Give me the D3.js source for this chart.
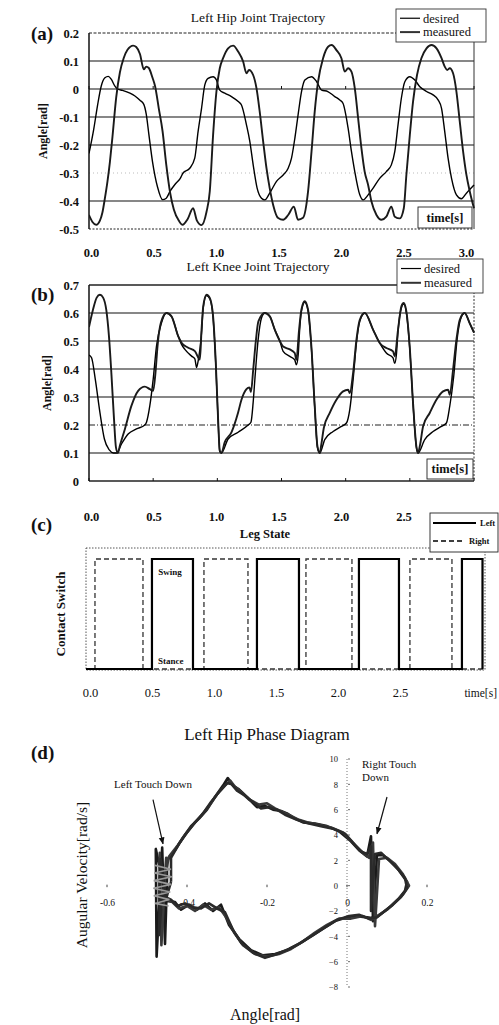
<!DOCTYPE html>
<html><head><meta charset="utf-8">
<script src="https://d3js.org/d3.v7.min.js"></script>
<style>
body{margin:0;background:#fff}
svg{display:block}
text{font-family:"Liberation Serif","Times New Roman",serif;fill:#111}
</style></head>
<body><svg width="499" height="1025"></svg>
<script>
// ---------------- DATA ----------------
const timeTicks = [0, 0.5, 1, 1.5, 2, 2.5, 3];
const legTimeTicks = [0, 0.5, 1, 1.5, 2, 2.5];
const hipTicks = [0.2, 0.1, 0, -0.1, -0.2, -0.3, -0.4, -0.5];
const kneeTicks = [0.7, 0.6, 0.5, 0.4, 0.3, 0.2, 0.1, 0];
const phaseXTicks = [-0.6, -0.4, -0.2, 0, 0.2];
const phaseYTicks = [10, 8, 6, 4, 2, 0, -2, -4, -6, -8];
const seriesNames = ["desired", "measured"];
const legNames = ["Left", "Right"];

// (a) Left hip joint [time s, angle rad]
const hipMeasured = [[0,-0.45],[0.027,-0.475],[0.056,-0.485],[0.085,-0.47],[0.105,-0.44],[0.124,-0.39],[0.144,-0.33],[0.163,-0.26],[0.183,-0.17],[0.212,-0.03],[0.241,0.06],[0.27,0.11],[0.30,0.14],[0.344,0.155],[0.368,0.15],[0.397,0.125],[0.427,0.07],[0.446,0.08],[0.466,0.075],[0.495,0.04],[0.515,0.01],[0.544,-0.07],[0.573,-0.15],[0.602,-0.27],[0.632,-0.37],[0.661,-0.43],[0.70,-0.47],[0.729,-0.485],[0.768,-0.465],[0.811,-0.426],[0.841,-0.47],[0.877,-0.486],[0.915,-0.44],[0.941,-0.366],[0.967,-0.164],[0.993,-0.009],[1.019,0.074],[1.045,0.11],[1.084,0.145],[1.123,0.155],[1.163,0.133],[1.201,0.098],[1.227,0.056],[1.247,0.068],[1.279,0.05],[1.305,0.003],[1.33,-0.08],[1.357,-0.187],[1.383,-0.283],[1.408,-0.354],[1.435,-0.414],[1.474,-0.461],[1.513,-0.467],[1.552,-0.45],[1.596,-0.42],[1.629,-0.467],[1.668,-0.46],[1.707,-0.366],[1.734,-0.223],[1.759,-0.08],[1.785,0.026],[1.824,0.11],[1.863,0.151],[1.891,0.157],[1.928,0.139],[1.967,0.11],[1.993,0.062],[2.019,0.074],[2.045,0.062],[2.071,0.003],[2.097,-0.104],[2.123,-0.212],[2.148,-0.295],[2.175,-0.343],[2.201,-0.402],[2.24,-0.45],[2.279,-0.467],[2.317,-0.456],[2.356,-0.42],[2.383,-0.456],[2.422,-0.462],[2.453,-0.426],[2.473,-0.307],[2.50,-0.164],[2.525,-0.045],[2.556,0.05],[2.59,0.11],[2.63,0.145],[2.669,0.157],[2.708,0.145],[2.747,0.11],[2.772,0.08],[2.791,0.068],[2.811,0.074],[2.837,0.056],[2.863,-0.009],[2.889,-0.116],[2.915,-0.223],[2.941,-0.307],[2.967,-0.366],[3.0,-0.426]];
const hipDesired = [[0,-0.23],[0.036,-0.146],[0.066,-0.06],[0.095,0.01],[0.124,0.04],[0.15,0.045],[0.173,0.035],[0.202,0.01],[0.222,0.0],[0.261,-0.005],[0.319,-0.015],[0.358,-0.025],[0.397,-0.04],[0.427,-0.055],[0.446,-0.09],[0.466,-0.16],[0.495,-0.26],[0.534,-0.35],[0.573,-0.395],[0.602,-0.39],[0.632,-0.365],[0.671,-0.34],[0.71,-0.32],[0.733,-0.30],[0.785,-0.283],[0.824,-0.247],[0.85,-0.152],[0.877,-0.069],[0.902,0.014],[0.928,0.038],[0.967,0.044],[0.993,0.032],[1.019,-0.004],[1.058,-0.015],[1.11,-0.027],[1.163,-0.045],[1.188,-0.057],[1.227,-0.128],[1.253,-0.187],[1.279,-0.27],[1.31,-0.354],[1.344,-0.39],[1.37,-0.396],[1.408,-0.372],[1.461,-0.33],[1.513,-0.307],[1.552,-0.283],[1.578,-0.247],[1.604,-0.176],[1.629,-0.093],[1.656,-0.009],[1.682,0.032],[1.734,0.044],[1.774,0.026],[1.813,-0.004],[1.861,-0.009],[1.915,-0.027],[1.954,-0.039],[1.979,-0.051],[2.019,-0.14],[2.045,-0.223],[2.071,-0.295],[2.11,-0.378],[2.136,-0.396],[2.175,-0.378],[2.214,-0.354],[2.265,-0.319],[2.317,-0.295],[2.356,-0.271],[2.383,-0.223],[2.408,-0.128],[2.434,-0.033],[2.461,0.026],[2.50,0.044],[2.539,0.032],[2.578,0.008],[2.63,-0.009],[2.681,-0.021],[2.72,-0.039],[2.747,-0.069],[2.772,-0.152],[2.798,-0.247],[2.825,-0.319],[2.863,-0.378],[2.902,-0.392],[2.941,-0.372],[3.0,-0.343]];

// (b) Left knee joint [time s, angle rad]
const kneeMeasured = [[0,0.55],[0.03,0.61],[0.06,0.655],[0.085,0.665],[0.11,0.655],[0.135,0.61],[0.155,0.52],[0.175,0.38],[0.195,0.22],[0.21,0.12],[0.225,0.10],[0.241,0.127],[0.28,0.186],[0.331,0.269],[0.383,0.322],[0.435,0.337],[0.474,0.328],[0.50,0.322],[0.518,0.387],[0.534,0.482],[0.56,0.565],[0.604,0.60],[0.643,0.588],[0.695,0.517],[0.721,0.494],[0.773,0.476],[0.825,0.464],[0.864,0.434],[0.877,0.54],[0.89,0.624],[0.916,0.665],[0.942,0.653],[0.967,0.588],[0.988,0.422],[1.006,0.22],[1.019,0.109],[1.032,0.10],[1.058,0.139],[1.11,0.174],[1.162,0.245],[1.188,0.29],[1.227,0.328],[1.25,0.334],[1.262,0.318],[1.28,0.40],[1.30,0.50],[1.32,0.57],[1.37,0.60],[1.409,0.588],[1.448,0.54],[1.487,0.50],[1.513,0.48],[1.565,0.47],[1.603,0.457],[1.616,0.433],[1.637,0.54],[1.655,0.612],[1.681,0.642],[1.707,0.612],[1.733,0.48],[1.759,0.267],[1.78,0.124],[1.798,0.10],[1.81,0.13],[1.83,0.19],[1.876,0.243],[1.928,0.29],[1.98,0.32],[2.019,0.326],[2.032,0.314],[2.058,0.386],[2.084,0.505],[2.11,0.576],[2.149,0.60],[2.214,0.54],[2.265,0.493],[2.317,0.475],[2.369,0.463],[2.382,0.445],[2.408,0.54],[2.434,0.624],[2.452,0.636],[2.473,0.606],[2.499,0.48],[2.525,0.279],[2.551,0.124],[2.564,0.10],[2.58,0.13],[2.603,0.195],[2.655,0.243],[2.707,0.29],[2.759,0.32],[2.798,0.326],[2.811,0.308],[2.837,0.398],[2.863,0.505],[2.889,0.576],[2.927,0.60],[2.966,0.564],[3.0,0.53]];
const kneeDesired = [[0,0.45],[0.02,0.44],[0.05,0.36],[0.085,0.245],[0.12,0.15],[0.16,0.11],[0.19,0.10],[0.215,0.10],[0.254,0.133],[0.305,0.168],[0.37,0.186],[0.435,0.20],[0.448,0.21],[0.474,0.269],[0.50,0.363],[0.526,0.482],[0.565,0.565],[0.604,0.60],[0.643,0.588],[0.695,0.517],[0.721,0.488],[0.747,0.47],[0.799,0.446],[0.825,0.436],[0.838,0.405],[0.851,0.43],[0.877,0.53],[0.89,0.618],[0.916,0.662],[0.942,0.65],[0.967,0.582],[0.988,0.416],[1.006,0.215],[1.019,0.105],[1.032,0.10],[1.084,0.15],[1.162,0.174],[1.24,0.20],[1.262,0.21],[1.279,0.28],[1.292,0.36],[1.318,0.505],[1.344,0.582],[1.37,0.60],[1.409,0.588],[1.448,0.54],[1.487,0.50],[1.513,0.463],[1.565,0.445],[1.603,0.433],[1.616,0.415],[1.63,0.45],[1.64,0.53],[1.655,0.605],[1.681,0.638],[1.707,0.608],[1.733,0.475],[1.759,0.262],[1.78,0.12],[1.798,0.10],[1.837,0.148],[1.902,0.177],[1.967,0.195],[2.006,0.207],[2.032,0.255],[2.058,0.362],[2.084,0.493],[2.11,0.57],[2.149,0.60],[2.214,0.54],[2.265,0.493],[2.317,0.457],[2.369,0.44],[2.382,0.42],[2.395,0.45],[2.408,0.535],[2.434,0.618],[2.452,0.632],[2.473,0.60],[2.499,0.475],[2.525,0.275],[2.551,0.12],[2.564,0.10],[2.616,0.148],[2.681,0.177],[2.746,0.195],[2.785,0.207],[2.811,0.267],[2.842,0.374],[2.868,0.505],[2.894,0.576],[2.927,0.60],[2.966,0.564],[3.0,0.53]];

// (c) Leg state [time s, 0 = stance, 1 = swing]
const legLeft = [[0,0],[0.529,1],[0.858,0],[1.371,1],[1.708,0],[2.189,1],[2.51,0],[3.015,1],[3.18,1],[3.18,0]];
const legRight = [[0,0],[0.072,1],[0.457,0],[0.946,1],[1.299,0],[1.764,1],[2.133,0],[2.598,1],[2.935,0],[3.2,0]];

// (d) Left hip phase diagram [angle rad, angular velocity rad/s]
const phaseLoop1 = [[-0.45,0.5],[-0.45,2.0],[-0.43,2.8],[-0.41,3.8],[-0.39,4.7],[-0.37,5.3],[-0.35,6.0],[-0.33,7.0],[-0.31,7.9],[-0.298,8.5],[-0.285,7.9],[-0.27,7.6],[-0.25,7.0],[-0.225,6.2],[-0.205,6.3],[-0.185,6.0],[-0.165,5.9],[-0.15,5.7],[-0.13,5.3],[-0.11,5.0],[-0.08,4.9],[-0.05,4.7],[-0.02,4.3],[0.01,3.5],[0.03,2.8],[0.05,2.3],[0.06,3.9],[0.065,-2.8],[0.075,2.4],[0.09,2.4],[0.11,1.9],[0.13,1.2],[0.15,0.3],[0.145,-0.4],[0.13,-1.0],[0.11,-1.6],[0.09,-2.1],[0.07,-2.6],[0.05,-2.5],[0.02,-2.4],[0.0,-2.5],[-0.03,-2.8],[-0.06,-3.4],[-0.09,-4.0],[-0.12,-4.6],[-0.15,-5.1],[-0.18,-5.4],[-0.21,-5.5],[-0.24,-5.1],[-0.27,-4.2],[-0.295,-3.1],[-0.315,-1.5],[-0.335,-2.0],[-0.355,-1.4],[-0.375,-1.9],[-0.395,-1.5],[-0.415,-1.9],[-0.43,-1.3],[-0.45,-1.2],[-0.478,2.9],[-0.476,-5.6],[-0.462,3.0],[-0.455,-4.6],[-0.45,0.5]];
const phaseLoop2 = [[-0.455,0.8],[-0.445,2.3],[-0.425,3.1],[-0.405,4.0],[-0.385,4.8],[-0.365,5.5],[-0.345,6.3],[-0.325,7.2],[-0.305,7.9],[-0.292,8.3],[-0.28,7.8],[-0.265,7.4],[-0.245,6.8],[-0.22,6.4],[-0.20,6.5],[-0.18,6.1],[-0.16,5.8],[-0.14,5.5],[-0.12,5.2],[-0.10,5.0],[-0.07,4.8],[-0.04,4.6],[-0.01,4.2],[0.02,3.2],[0.04,2.6],[0.055,2.2],[0.065,3.4],[0.07,-3.2],[0.08,2.1],[0.10,2.2],[0.12,1.7],[0.14,0.9],[0.155,0.0],[0.14,-0.7],[0.12,-1.3],[0.10,-1.9],[0.08,-2.3],[0.06,-2.7],[0.04,-2.4],[0.01,-2.6],[-0.02,-2.6],[-0.05,-3.1],[-0.08,-3.7],[-0.11,-4.4],[-0.14,-5.0],[-0.17,-5.4],[-0.20,-5.6],[-0.23,-5.4],[-0.26,-4.7],[-0.28,-3.8],[-0.30,-2.6],[-0.32,-1.7],[-0.34,-1.9],[-0.36,-1.5],[-0.38,-2.0],[-0.40,-1.6],[-0.42,-1.8],[-0.44,-1.2],[-0.47,-1.0],[-0.468,2.6],[-0.464,-4.7],[-0.452,2.2],[-0.455,0.8]];
const phaseLoop3 = [[-0.44,0.3],[-0.44,2.2],[-0.42,3.3],[-0.40,4.2],[-0.38,5.0],[-0.36,5.7],[-0.34,6.6],[-0.32,7.4],[-0.30,8.1],[-0.288,8.0],[-0.275,7.5],[-0.255,7.1],[-0.235,6.6],[-0.215,6.1],[-0.195,6.2],[-0.175,6.0],[-0.155,5.6],[-0.125,5.2],[-0.095,4.9],[-0.065,4.7],[-0.035,4.5],[-0.005,4.1],[0.015,3.4],[0.035,2.7],[0.05,2.5],[0.06,3.1],[0.06,-2.0],[0.07,2.5],[0.085,2.6],[0.105,2.0],[0.125,1.4],[0.145,0.6],[0.15,-0.2],[0.135,-0.9],[0.115,-1.5],[0.095,-2.0],[0.075,-2.5],[0.055,-2.6],[0.03,-2.3],[0.005,-2.4],[-0.025,-2.7],[-0.055,-3.3],[-0.085,-3.9],[-0.115,-4.5],[-0.145,-5.0],[-0.175,-5.4],[-0.205,-5.7],[-0.235,-5.3],[-0.265,-4.5],[-0.285,-3.5],[-0.305,-2.1],[-0.325,-1.8],[-0.345,-1.4],[-0.365,-1.8],[-0.385,-1.7],[-0.405,-1.4],[-0.425,-1.6],[-0.44,-1.1],[-0.462,-0.8],[-0.47,-3.9],[-0.466,2.1],[-0.452,-1.0],[-0.44,0.3]];
const touchCluster = [[-0.48,1.6],[-0.44,1.3],[-0.482,1.0],[-0.438,0.7],[-0.483,0.4],[-0.44,0.1],[-0.484,-0.2],[-0.442,-0.5],[-0.483,-0.8],[-0.444,-1.1],[-0.48,-1.4],[-0.446,-1.6]];
const annotations = [
  {label:["Left Touch Down"], text:[-0.485,7.7], from:[-0.485,6.8], to:[-0.46,3.3], anchor:"middle"},
  {label:["Right Touch","Down"], text:[0.0375,9.3], from:[0.10,7.0], to:[0.075,4.1], anchor:"start"}
];

// ---------------- DRAW ----------------
const SERIF = '"Liberation Serif","Times New Roman",serif';
const svg = d3.select("svg");
const defs = svg.append("defs");
const fmt = d => d === 0 ? "0" : d.toFixed(1);

function cleanAxis(g, size, weight) {
  g.select(".domain").remove();
  g.selectAll(".tick line").remove();
  g.selectAll("text").style("font-family", SERIF).style("font-size", size + "px")
    .style("font-weight", weight).attr("fill", "#111");
}
function hline(g, x0, x1, y, stroke, w, dash) {
  g.append("line").attr("x1", x0).attr("x2", x1).attr("y1", y).attr("y2", y)
    .attr("stroke", stroke).attr("stroke-width", w).attr("stroke-dasharray", dash || null);
}
function vline(g, x, y0, y1, stroke, w, dash) {
  g.append("line").attr("x1", x).attr("x2", x).attr("y1", y0).attr("y2", y1)
    .attr("stroke", stroke).attr("stroke-width", w).attr("stroke-dasharray", dash || null);
}
function clip(id, x, y, w, h) {
  defs.append("clipPath").attr("id", id).append("rect").attr("x", x).attr("y", y).attr("width", w).attr("height", h);
}

const xT = d3.scaleLinear().domain([0, 3]).range([89, 474]);      // data time scale
const xTL = d3.scaleLinear().domain([0, 3]).range([91, 466]);     // tick label row

function trajPanel(o) {
  const g = svg.append("g");
  const y = o.y;
  const [x0, x1] = xT.range();
  const [yb, yt] = y.range();
  o.ticks.filter(v => v !== o.ticks[0] && v !== o.ticks[o.ticks.length - 1]).forEach(v => {
    if (o.faint.includes(v)) hline(g, x0, x1, y(v), "#aaa", 0.8, "1,3");
    else if (o.dashed.includes(v)) hline(g, x0, x1, y(v), "#222", 1.1, "6,2,1,2");
    else hline(g, x0, x1, y(v), "#111", 1.2);
  });
  hline(g, x0, x1, yt, "#222", o.topSolid ? 1.3 : 1, o.topSolid ? null : "3,1.5");
  hline(g, x0, x1, yb, "#222", o.bottomSolid ? 1.4 : 1, o.bottomSolid ? null : "2,1.5");
  vline(g, x0, yt, yb, "#111", 1.5);
  vline(g, x1, yt, yb, "#333", 1, o.rightDotted ? "2,1.5" : null);
  timeTicks.forEach(t => vline(g, xT(t), y(o.tickAt), y(o.tickAt) - 3, "#111", 1));
  clip(o.id, x0, yt - 2, x1 - x0 + 1, yb - yt + 4);
  const line = d3.line().x(d => xT(d[0])).y(d => y(d[1])).curve(d3.curveMonotoneX);
  const cg = g.append("g").attr("clip-path", `url(#${o.id})`);
  cg.append("path").datum(o.desired).attr("d", line).attr("fill", "none")
    .attr("stroke", "#000").attr("stroke-width", 1.4).attr("stroke-linejoin", "round");
  cg.append("path").datum(o.measured).attr("d", line).attr("fill", "none")
    .attr("stroke", "#1a1a1a").attr("stroke-width", 1.9).attr("stroke-linejoin", "round");
  const ya = g.append("g").attr("transform", "translate(79,0)")
    .call(d3.axisLeft(y).tickValues(o.ticks).tickSize(0).tickPadding(0).tickFormat(fmt));
  cleanAxis(ya, 12.5, "bold");
  const xa = g.append("g").attr("transform", `translate(0,${o.xLabelY})`)
    .call(d3.axisBottom(xTL).tickValues(timeTicks).tickSize(0).tickFormat(d3.format(".1f")));
  cleanAxis(xa, 12.5, "bold");
  xa.selectAll("text").attr("y", 0).attr("dy", "0.35em");
  g.append("text").attr("x", 258).attr("y", o.titleY).attr("text-anchor", "middle")
    .style("font-size", "13.5px").text(o.title);
  g.append("text").attr("x", 31).attr("y", o.tagY).style("font-size", "19px")
    .style("font-weight", "bold").text(o.tag);
  g.append("text").attr("transform", `translate(${o.yTitleX},${(yt + yb) / 2}) rotate(-90)`)
    .attr("text-anchor", "middle").attr("dy", "0.35em").style("font-size", "12px")
    .style("font-weight", "bold").text("Angle[rad]");
  const tb = o.timeBox;
  g.append("rect").attr("x", tb[0]).attr("y", tb[1]).attr("width", tb[2]).attr("height", tb[3])
    .attr("fill", "#fff").attr("stroke", "#222").attr("stroke-width", 0.9);
  g.append("text").attr("x", tb[0] + tb[2] / 2).attr("y", tb[1] + tb[3] / 2).attr("dy", "0.35em")
    .attr("text-anchor", "middle").style("font-size", "12.5px").style("font-weight", "bold").text("time[s]");
  const lb = o.legend;
  g.append("rect").attr("x", lb[0]).attr("y", lb[1]).attr("width", lb[2]).attr("height", lb[3])
    .attr("fill", "#fff").attr("stroke", "#333").attr("stroke-width", 0.9);
  seriesNames.forEach((n, i) => {
    const ly = lb[1] + lb[3] * (i === 0 ? 0.28 : 0.7);
    hline(g, lb[0] + 4, lb[0] + 24, ly, i === 0 ? "#000" : "#333", i === 0 ? 1.2 : 2);
    g.append("text").attr("x", lb[0] + 27).attr("y", ly).attr("dy", "0.35em")
      .style("font-size", "12.5px").text(n);
  });
}

// (a)
trajPanel({
  id: "clipA", y: d3.scaleLinear().domain([-0.5, 0.2]).range([229, 33]), ticks: hipTicks,
  faint: [-0.3], dashed: [], topSolid: false, bottomSolid: false, rightDotted: false, tickAt: 0,
  desired: hipDesired, measured: hipMeasured, xLabelY: 253, title: "Left Hip Joint Trajectory",
  titleY: 22, tag: "(a)", tagY: 40, yTitleX: 43, timeBox: [418, 207, 54, 21], legend: [396, 9, 90, 33]
});
// (b)
trajPanel({
  id: "clipB", y: d3.scaleLinear().domain([0, 0.7]).range([481, 285]), ticks: kneeTicks,
  faint: [], dashed: [0.2], topSolid: true, bottomSolid: true, rightDotted: true, tickAt: 0,
  desired: kneeDesired, measured: kneeMeasured, xLabelY: 517, title: "Left Knee Joint Trajectory",
  titleY: 271, tag: "(b)", tagY: 301, yTitleX: 47, timeBox: [427, 459, 46, 20], legend: [397, 259, 86, 34]
});

// (c) Leg state
(function () {
  const g = svg.append("g");
  const x = d3.scaleLinear().domain([0, 3.2]).range([86, 485]);
  const xl = d3.scaleLinear().domain([0, 2.5]).range([90, 400]);
  const y = d3.scaleLinear().domain([0, 1]).range([669, 559]);
  g.append("rect").attr("x", 86).attr("y", 548).attr("width", 399).attr("height", 122)
    .attr("fill", "none").attr("stroke", "#444").attr("stroke-width", 0.9).attr("stroke-dasharray", "1.5,1.5");
  const step = d3.line().x(d => x(d[0])).y(d => y(d[1])).curve(d3.curveStepAfter);
  g.append("path").datum(legRight).attr("d", step).attr("fill", "none").attr("stroke", "#333")
    .attr("stroke-width", 1.3).attr("stroke-dasharray", "5,3");
  g.append("path").datum(legLeft).attr("d", step).attr("fill", "none").attr("stroke", "#000")
    .attr("stroke-width", 2.2);
  g.append("text").attr("x", x(0.674)).attr("y", y(0.88)).attr("dy", "0.35em").attr("text-anchor", "middle")
    .style("font-size", "9px").style("font-weight", "bold").text("Swing");
  g.append("text").attr("x", x(0.68)).attr("y", y(0.07)).attr("dy", "0.35em").attr("text-anchor", "middle")
    .style("font-size", "9px").style("font-weight", "bold").text("Stance");
  const xa = g.append("g").attr("transform", "translate(0,693)")
    .call(d3.axisBottom(xl).tickValues(legTimeTicks).tickSize(0).tickFormat(d3.format(".1f")));
  cleanAxis(xa, 12.5, "normal");
  xa.selectAll("text").attr("y", 0).attr("dy", "0.35em");
  g.append("text").attr("x", 497).attr("y", 693).attr("dy", "0.35em").attr("text-anchor", "end")
    .style("font-size", "11.5px").text("time[s]");
  g.append("text").attr("x", 265).attr("y", 538).attr("text-anchor", "middle")
    .style("font-size", "12.5px").style("font-weight", "bold").text("Leg State");
  g.append("text").attr("x", 31).attr("y", 531).style("font-size", "19px").style("font-weight", "bold").text("(c)");
  g.append("text").attr("transform", "translate(60,614) rotate(-90)").attr("text-anchor", "middle")
    .attr("dy", "0.35em").style("font-size", "13px").style("font-weight", "bold").text("Contact Switch");
  g.append("rect").attr("x", 430).attr("y", 513).attr("width", 68).attr("height", 39)
    .attr("fill", "#fff").attr("stroke", "#222").attr("stroke-width", 0.9);
  legNames.forEach((n, i) => {
    const ly = 523 + i * 18;
    hline(g, 433, i === 0 ? 476 : 465, ly, "#000", i === 0 ? 2.2 : 1.3, i === 0 ? null : "5,3");
    g.append("text").attr("x", i === 0 ? 480 : 469).attr("y", ly).attr("dy", "0.35em")
      .style("font-size", "8.5px").style("font-weight", "bold").text(n);
  });
})();

// (d) Phase diagram
(function () {
  const g = svg.append("g");
  const x = d3.scaleLinear().domain([-0.6, 0.2]).range([107, 427]);
  const y = d3.scaleLinear().domain([-8, 10]).range([987, 759]);
  vline(g, x(0), y(10), y(-8), "#666", 0.9, "1,2");
  phaseYTicks.forEach(v => hline(g, x(0) + 1, x(0) + 3, y(v), "#444", 0.8));
  const ya = g.append("g").attr("transform", `translate(${x(0) - 9},0)`)
    .call(d3.axisLeft(y).tickValues(phaseYTicks).tickSize(0).tickPadding(0).tickFormat(d3.format("d")));
  cleanAxis(ya, 8.5, "normal");
  phaseXTicks.forEach(v => vline(g, x(v), y(0) - 1, y(0) + 1.5, "#444", 1));
  const xa = g.append("g").attr("transform", `translate(0,${y(0) + 17})`)
    .call(d3.axisBottom(x).tickValues(phaseXTicks).tickSize(0).tickFormat(fmt));
  cleanAxis(xa, 9.5, "normal");
  xa.selectAll("text").attr("y", 0).attr("dy", "0.35em");
  const line = d3.line().x(d => x(d[0])).y(d => y(d[1]));
  [phaseLoop1, phaseLoop2, phaseLoop3].forEach((lp, i) => {
    g.append("path").datum(lp).attr("d", line).attr("fill", "none")
      .attr("stroke", ["#1a1a1a", "#3a3a3a", "#2a2a2a"][i]).attr("stroke-width", 2.6)
      .attr("stroke-linejoin", "round");
  });
  g.append("path").datum(touchCluster).attr("d", line).attr("fill", "none")
    .attr("stroke", "#999").attr("stroke-width", 1.6);
  defs.append("marker").attr("id", "arr").attr("viewBox", "0 0 10 10").attr("refX", 9).attr("refY", 5)
    .attr("markerWidth", 6).attr("markerHeight", 6).attr("orient", "auto")
    .append("path").attr("d", "M0,1 L10,5 L0,9 z").attr("fill", "#111");
  annotations.forEach(a => {
    const t = g.append("text").attr("x", x(a.text[0])).attr("y", y(a.text[1]))
      .attr("text-anchor", a.anchor).style("font-size", "11px");
    a.label.forEach((s, i) => t.append("tspan").attr("x", x(a.text[0])).attr("dy", i ? "1.2em" : 0).text(s));
    g.append("line").attr("x1", x(a.from[0])).attr("y1", y(a.from[1])).attr("x2", x(a.to[0])).attr("y2", y(a.to[1]))
      .attr("stroke", "#111").attr("stroke-width", 1.2).attr("marker-end", "url(#arr)");
  });
  g.append("text").attr("x", 267).attr("y", 740).attr("text-anchor", "middle")
    .style("font-size", "17px").text("Left Hip Phase Diagram");
  g.append("text").attr("x", 31).attr("y", 759).style("font-size", "19px").style("font-weight", "bold").text("(d)");
  g.append("text").attr("transform", "translate(82,875) rotate(-90)").attr("text-anchor", "middle")
    .attr("dy", "0.35em").style("font-size", "15.5px").text("Augular Velocity[rad/s]");
  g.append("text").attr("x", 265).attr("y", 1020).attr("text-anchor", "middle")
    .style("font-size", "16px").text("Angle[rad]");
})();
</script></body></html>
